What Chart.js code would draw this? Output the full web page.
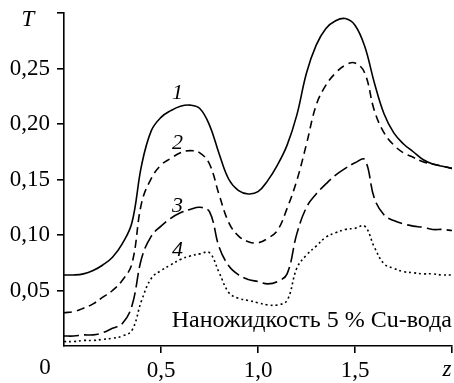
<!DOCTYPE html>
<html>
<head>
<meta charset="utf-8">
<script src="https://cdn.jsdelivr.net/npm/chart.js@4"></script>
<style>
    html, body { margin: 0; padding: 0; background: #ffffff; }
    #wrap { width: 454px; height: 383px; }
</style>
</head>
<body>
<div id="wrap"><canvas id="lineChart" width="454" height="383"></canvas></div>
<script>
// z along the channel
const zValues = [0, 0.05, 0.1, 0.15, 0.2, 0.25, 0.3, 0.35, 0.4, 0.45, 0.5, 0.55, 0.6, 0.65, 0.7, 0.75, 0.8, 0.85, 0.9, 0.95,
    1.0, 1.05, 1.1, 1.15, 1.2, 1.25, 1.3, 1.35, 1.4, 1.45, 1.5, 1.55, 1.6, 1.65, 1.7, 1.75, 1.8, 1.85, 1.9, 1.95, 2.0];

// T for curves 1..4
const curve1Values = [0.064, 0.064, 0.065, 0.068, 0.073, 0.080, 0.092, 0.111, 0.163, 0.194, 0.206, 0.212, 0.216, 0.217, 0.214, 0.199, 0.173, 0.150, 0.140, 0.137,
    0.139, 0.149, 0.163, 0.181, 0.208, 0.246, 0.271, 0.286, 0.293, 0.295, 0.289, 0.270, 0.237, 0.209, 0.192, 0.182, 0.175, 0.168, 0.164, 0.162, 0.160];
const curve2Values = [0.030, 0.031, 0.034, 0.038, 0.044, 0.050, 0.059, 0.074, 0.129, 0.151, 0.163, 0.169, 0.174, 0.176, 0.174, 0.164, 0.136, 0.111, 0.099, 0.094,
    0.093, 0.097, 0.104, 0.124, 0.149, 0.182, 0.217, 0.235, 0.246, 0.253, 0.255, 0.246, 0.212, 0.192, 0.181, 0.174, 0.170, 0.166, 0.164, 0.162, 0.160];
const curve3Values = [0.009, 0.009, 0.010, 0.010, 0.012, 0.016, 0.020, 0.036, 0.079, 0.099, 0.108, 0.115, 0.120, 0.123, 0.125, 0.121, 0.089, 0.072, 0.064, 0.060,
    0.058, 0.056, 0.058, 0.065, 0.101, 0.125, 0.137, 0.146, 0.154, 0.160, 0.165, 0.168, 0.133, 0.118, 0.113, 0.110, 0.108, 0.107, 0.105, 0.105, 0.104];
const curve4Values = [0.004, 0.004, 0.005, 0.005, 0.006, 0.007, 0.009, 0.014, 0.041, 0.061, 0.068, 0.073, 0.078, 0.081, 0.083, 0.084, 0.066, 0.048, 0.043, 0.041,
    0.039, 0.037, 0.037, 0.041, 0.070, 0.082, 0.090, 0.098, 0.102, 0.105, 0.106, 0.108, 0.089, 0.074, 0.070, 0.067, 0.066, 0.065, 0.065, 0.064, 0.064];

const curveNames = ["1", "2", "3", "4"];
const captionText = "Наножидкость 5 % Cu-вода";
const yAxisName = "T";
const xAxisName = "z";
const originLabel = "0";

const jVarSerif = "'Liberation Serif', 'Times New Roman', serif";

let jFPoints = ({ inValues }) => zValues.map((z, i) => ({ x: z, y: inValues[i] }));

// where the curve numbers sit, in data units
const jVarCurveNamePlaces = [
    { z: 0.585, t: 0.228 },
    { z: 0.585, t: 0.183 },
    { z: 0.585, t: 0.126 },
    { z: 0.585, t: 0.086 }
];

const jVarTextPlugin = {
    id: "plotTexts",
    afterDraw: (chart) => {
        const ctx = chart.ctx;
        const xS = chart.scales.x;
        const yS = chart.scales.y;
        const area = chart.chartArea;
        ctx.save();
        ctx.fillStyle = "#000";
        ctx.textBaseline = "middle";
        ctx.textAlign = "center";

        ctx.font = "italic 22px " + jVarSerif;
        curveNames.forEach((name, i) => {
            let p = jVarCurveNamePlaces[i];
            ctx.fillText(name, xS.getPixelForValue(p.z), yS.getPixelForValue(p.t));
        });

        ctx.font = "italic 23px " + jVarSerif;
        ctx.fillText(yAxisName, area.left - 36, area.top + 7);
        ctx.fillText(xAxisName, area.right - 5, area.bottom + 24);

        ctx.font = "23px " + jVarSerif;
        ctx.fillText(originLabel, area.left - 19, area.bottom + 22);

        ctx.textAlign = "right";
        ctx.font = "24px " + jVarSerif;
        ctx.fillText(captionText, area.right, area.bottom - 25);
        ctx.restore();
    }
};

const StartFunc = () => {
    const ctx = document.getElementById("lineChart");

    let jVarLocalStyles = [
        [],
        [8, 5],
        [15, 5],
        [2, 3]
    ];
    let jVarLocalSeries = [curve1Values, curve2Values, curve3Values, curve4Values];

    new Chart(ctx, {
        type: "line",
        data: {
            datasets: jVarLocalSeries.map((arr, i) => ({
                label: curveNames[i],
                data: jFPoints({ inValues: arr }),
                borderColor: "#000",
                borderWidth: 1.6,
                borderDash: jVarLocalStyles[i],
                pointRadius: 0,
                fill: false,
                tension: 0.4
            }))
        },
        options: {
            responsive: false,
            animation: false,
            layout: { padding: { top: 13, right: 2, left: 0, bottom: 0 } },
            plugins: {
                legend: { display: false },
                tooltip: { enabled: false }
            },
            scales: {
                x: {
                    type: "linear",
                    min: 0,
                    max: 2,
                    afterFit: (scale) => {
                        scale.height = 37;
                        scale.paddingLeft = 0;
                        scale.paddingRight = 0;
                    },
                    border: { display: true, color: "#000", width: 1.6 },
                    grid: {
                        drawOnChartArea: false,
                        drawTicks: true,
                        tickLength: 7,
                        lineWidth: 1.6,
                        color: (c) => (c.tick && c.tick.value === 0 ? "rgba(0,0,0,0)" : "#000")
                    },
                    ticks: {
                        stepSize: 0.5,
                        padding: 4,
                        maxRotation: 0,
                        color: "#000",
                        font: { family: jVarSerif, size: 23 },
                        callback: (v) => (v === 0 || v === 2 ? "" : v.toFixed(1).replace(".", ","))
                    }
                },
                y: {
                    min: 0,
                    max: 0.3,
                    afterFit: (scale) => {
                        scale.width = 64;
                        scale.paddingTop = 0;
                        scale.paddingBottom = 0;
                    },
                    border: { display: true, color: "#000", width: 1.6 },
                    grid: {
                        drawOnChartArea: false,
                        drawTicks: true,
                        tickLength: 7,
                        lineWidth: 1.6,
                        color: (c) => (c.tick && c.tick.value === 0 ? "rgba(0,0,0,0)" : "#000")
                    },
                    ticks: {
                        stepSize: 0.05,
                        padding: 7,
                        color: "#000",
                        font: { family: jVarSerif, size: 23 },
                        callback: (v) => {
                            let r = Math.round(v * 100) / 100;
                            if (r === 0 || r === 0.3) return "";
                            return r.toFixed(2).replace(".", ",");
                        }
                    }
                }
            }
        },
        plugins: [jVarTextPlugin]
    });
};

StartFunc();
</script>
</body>
</html>
